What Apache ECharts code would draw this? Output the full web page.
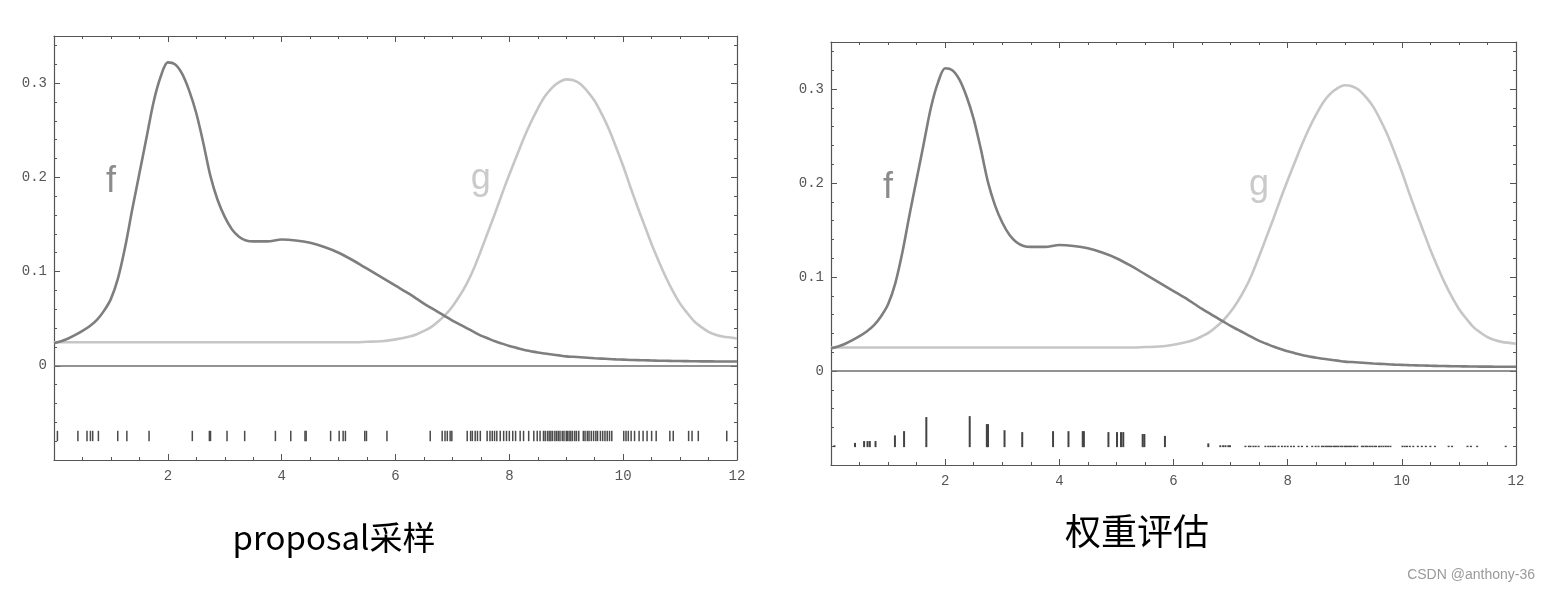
<!DOCTYPE html>
<html><head><meta charset="utf-8">
<script src="https://cdn.jsdelivr.net/npm/echarts@6/dist/echarts.min.js"></script>
<style>html,body{margin:0;padding:0;background:#fff}#c{width:1549px;height:592px}</style>
</head><body><div id="c"></div>
<script>
// ---- data ----
const xs = [0,0.125,0.25,0.375,0.5,0.625,0.75,
  0.875,1,1.125,1.25,1.375,1.5,1.625,1.75,1.875,2,2.125,2.25,2.375,2.5,2.625,2.75,2.875,3,3.125,3.25,3.375,3.5,
  3.75,4,4.25,4.5,4.75,5,5.25,5.5,5.75,6,
  6.25,6.375,6.5,6.625,6.75,6.875,7,7.125,7.25,7.375,
  7.5,7.625,7.75,7.875,8,8.125,8.25,8.375,8.5,8.625,
  8.75,8.875,9,9.125,9.25,9.375,9.5,9.625,9.75,9.875,
  10,10.125,10.25,10.375,10.5,10.625,10.75,10.875,11,11.125,
  11.25,11.375,11.5,11.625,11.75,12];
const fValues = [0.024,0.026,0.029,0.0328,0.037,0.042,0.0485,
  0.058,0.071,0.093,0.126,0.166,0.204,0.242,0.280,0.307,0.322,0.320,0.310,0.292,0.268,0.236,0.201,0.176,0.158,0.145,0.137,0.133,0.132,
  0.132,0.134,0.133,0.1305,0.126,0.120,0.112,0.103,0.094,0.085,
  0.076,0.071,0.066,0.0615,0.057,0.0525,0.048,0.044,0.040,0.036,
  0.032,0.029,0.026,0.0235,0.021,0.019,0.017,0.0155,0.014,0.013,
  0.012,0.011,0.010,0.0095,0.009,0.0085,0.008,0.0076,0.0072,0.0068,
  0.0065,0.0062,0.006,0.0058,0.0056,0.0054,0.0053,0.0051,0.005,0.0049,
  0.0048,0.0047,0.0047,0.0046,0.0046,0.0045];
const gValues = [0.025,0.025,0.025,0.025,0.025,0.025,0.025,
  0.025,0.025,0.025,0.025,0.025,0.025,0.025,0.025,0.025,0.025,0.025,0.025,0.025,0.025,0.025,0.025,0.025,0.025,0.025,0.025,0.025,0.025,
  0.025,0.025,0.025,0.025,0.025,0.025,0.025,0.0255,0.026,0.028,
  0.031,0.0335,0.037,0.041,0.047,0.054,0.063,0.074,0.087,0.103,
  0.122,0.142,0.162,0.183,0.203,0.222,0.241,0.258,0.273,0.286,
  0.295,0.301,0.304,0.303,0.299,0.291,0.281,0.267,0.251,0.232,
  0.212,0.190,0.169,0.149,0.129,0.111,0.094,0.079,0.066,0.056,
  0.047,0.041,0.036,0.033,0.031,0.029];
const samples = [0.06,0.42,0.58,0.64,0.68,0.78,1.12,1.28,1.67,2.43,2.73,2.75,3.04,3.35,3.89,4.16,4.41,4.43,4.86,5.01,5.08,5.12,5.46,5.49,5.85,
  6.61,6.82,6.87,6.91,6.96,6.99,7.26,7.32,7.35,7.40,7.44,7.49,7.61,7.66,7.70,7.74,7.78,7.84,7.90,7.95,8.00,8.06,8.11,8.19,8.25,8.34,8.43,8.49,8.54,
  8.60,8.63,8.67,8.70,8.73,8.76,8.80,8.83,8.86,8.89,8.93,8.96,9.00,9.02,9.05,9.08,9.11,9.15,9.18,9.22,9.30,9.33,9.37,9.40,9.44,9.48,9.52,9.55,9.60,9.64,9.68,9.72,9.76,9.80,
  10.01,10.05,10.09,10.14,10.20,10.28,10.35,10.42,10.50,10.58,10.82,10.88,11.15,11.21,11.32,11.82];
const rightWeights = [0.002,0.0045,0.0065,0.0065,0.0065,0.0065,0.0125,0.017,0.032,0.033,0.0245,0.0245,0.018,0.016,0.017,0.017,0.017,0.017,0.016,0.016,0.016,0.016,0.014,0.014,0.012,
  0.004,0.002,0.002,0.002,0.002,0.002,0.0015,0.0015,0.0015,0.0015,0.0015,0.0015,0.0015,0.0015,0.0015,0.0015,0.0015,0.0015,0.0015,0.0015,0.0015,0.0015,0.0015,0.0015,0.0015,0.0015,0.0015,0.0015,0.0015,
  0.0015,0.0015,0.0015,0.0015,0.0015,0.0015,0.0015,0.0015,0.0015,0.0015,0.0015,0.0015,0.0015,0.0015,0.0015,0.0015,0.0015,0.0015,0.0015,0.0015,0.0015,0.0015,0.0015,0.0015,0.0015,0.0015,0.0015,0.0015,0.0015,0.0015,0.0015,0.0015,0.0015,0.0015,
  0.0015,0.0015,0.0015,0.0015,0.0015,0.0015,0.0015,0.0015,0.0015,0.0015,0.0015,0.0015,0.0015,0.0015,0.0015,0.0015];
const xTickLabels = ['2','4','6','8','10','12'];
const yTickLabels = ['0','0.1','0.2','0.3'];
const curveNames = ['f','g'];
const panelTitles = ['proposal采样','权重评估'];
const watermark = 'CSDN @anthony-36';

// ---- rendering ----
const FRAME = '#555';
const MONO = '"Liberation Mono", "DejaVu Sans Mono", monospace';
const RUG_BASE = -0.080;
const RUG_LEN = 0.011;

function xLabel(v){ const i = Math.round(v/2) - 1; return (Math.abs(v/2 - Math.round(v/2)) < 1e-6 && i >= 0) ? (xTickLabels[i] || '') : ''; }
function yLabel(v){ const i = Math.round(v*10); return (Math.abs(v*10 - i) < 1e-6 && i >= 0 && i < yTickLabels.length) ? yTickLabels[i] : ''; }

function makeX(gi, pos){
  return {type:'value', gridIndex:gi, position:pos, min:0, max:12, interval:2,
    splitLine:{show:false},
    axisLine:{show:true, onZero:false, lineStyle:{color:FRAME, width:1.2}},
    axisTick:{show:true, inside:true, length:6, lineStyle:{color:FRAME, width:1}},
    minorTick:{show:true, splitNumber:4, length:3, lineStyle:{color:FRAME, width:1}},
    axisLabel:{show:pos==='bottom', margin:9, color:'#555', fontFamily:MONO, fontSize:14, showMinLabel:false, formatter:xLabel}};
}
function makeY(gi, pos){
  return {type:'value', gridIndex:gi, position:pos, min:-0.1, max:0.35, interval:0.1,
    splitLine:{show:false},
    axisLine:{show:true, onZero:false, lineStyle:{color:FRAME, width:1.2}},
    axisTick:{show:true, inside:true, length:6, lineStyle:{color:FRAME, width:1}},
    minorTick:{show:true, splitNumber:5, length:3, lineStyle:{color:FRAME, width:1}},
    axisLabel:{show:pos==='left', margin:7, color:'#555', fontFamily:MONO, fontSize:14, showMaxLabel:false, formatter:yLabel}};
}

const grids = [
  {left:54, top:36, width:683, height:424},
  {left:831, top:42, width:685, height:423}
];
const xAxes = [], yAxes = [], series = [];
grids.forEach((g, gi) => {
  xAxes.push(makeX(gi,'bottom'), makeX(gi,'top'));
  yAxes.push(makeY(gi,'left'), makeY(gi,'right'));
  const xi = gi*2, yi = gi*2;
  series.push({type:'line', name:'g'+gi, xAxisIndex:xi, yAxisIndex:yi, data: xs.map((x,i)=>[x,gValues[i]]),
    showSymbol:false, smooth:0.3, lineStyle:{color:'#c6c6c6', width:2.6}, z:2,
    markPoint:{symbol:'circle', symbolSize:1, itemStyle:{color:'rgba(0,0,0,0)'}, silent:true,
      label:{show:true, formatter:curveNames[1], fontFamily:'"Liberation Sans", Arial, sans-serif', fontSize:36, color:'#cacaca', position:'inside'},
      data:[{coord:[7.5,0.198]}]}});
  series.push({type:'line', name:'f'+gi, xAxisIndex:xi, yAxisIndex:yi, data: xs.map((x,i)=>[x,fValues[i]]),
    showSymbol:false, smooth:0.3, lineStyle:{color:'#7e7e7e', width:2.6}, z:3,
    markLine:{silent:true, symbol:'none', label:{show:false}, lineStyle:{color:'#6e6e6e', width:1.5, type:'solid'}, data:[{yAxis:0}]},
    markPoint:{symbol:'circle', symbolSize:1, itemStyle:{color:'rgba(0,0,0,0)'}, silent:true,
      label:{show:true, formatter:curveNames[0], fontFamily:'"Liberation Sans", Arial, sans-serif', fontSize:36, color:'#8c8c8c', position:'inside'},
      data:[{coord:[1.0,0.195]}]}});
  const rugData = gi === 0 ? samples.map(x=>[x, RUG_LEN]) : samples.map((x,i)=>[x, rightWeights[i]]);
  series.push({type:'custom', xAxisIndex:xi, yAxisIndex:yi, data:rugData, z:4,
    encode:{x:0, y:1},
    renderItem:(params, api) => {
      const x = api.value(0), h = api.value(1);
      const base = gi === 0 ? RUG_BASE : RUG_BASE - 0.001;
      const p0 = api.coord([x, base]);
      const p1 = api.coord([x, base + h]);
      return {type:'line', shape:{x1:p0[0], y1:p0[1], x2:p1[0], y2:p1[1]},
        style:{stroke: gi===0 ? '#4a4a4a' : '#444', lineWidth: gi===0 ? 1.5 : 2}};
    }});
});

const chart = echarts.init(document.getElementById('c'), null, {renderer:'canvas'});
chart.setOption({
  animation:false,
  backgroundColor:'#fff',
  grid: grids,
  xAxis: xAxes,
  yAxis: yAxes,
  series: series,
  graphic: [
    {type:'text', x:334, y:537, style:{text:panelTitles[0], fill:'#000', font:'33px "Noto Sans CJK SC", sans-serif', align:'center', verticalAlign:'middle'}},
    {type:'text', x:1137, y:531, style:{text:panelTitles[1], fill:'#000', font:'36px "Noto Sans CJK SC", sans-serif', align:'center', verticalAlign:'middle'}},
    {type:'text', x:1535, y:575, style:{text:watermark, fill:'#9a9a9a', font:'14px "Liberation Sans", Arial, sans-serif', align:'right', verticalAlign:'middle'}}
  ]
});
</script>
</body></html>
